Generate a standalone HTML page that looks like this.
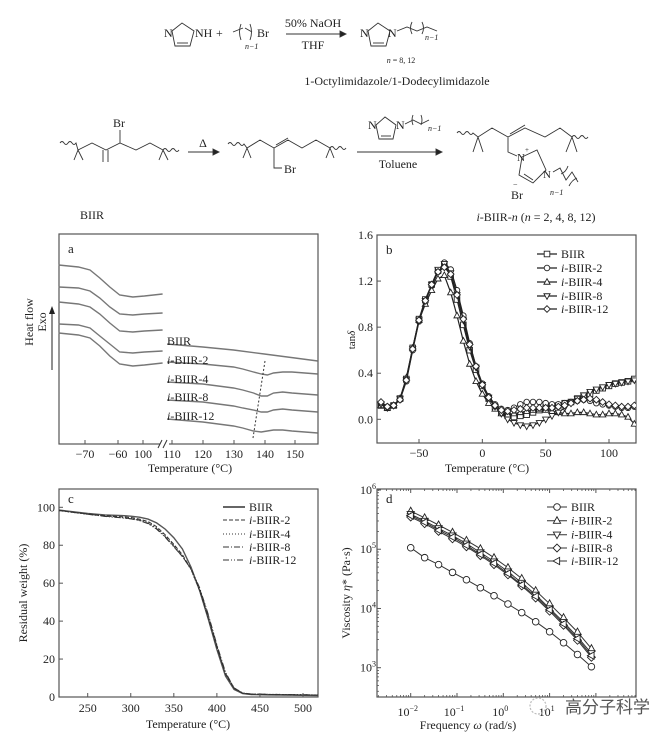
<!DOCTYPE html>
<html><head><meta charset="utf-8"><style>
html,body{margin:0;padding:0;background:#fff}
svg{display:block;font-family:"Liberation Serif","Noto Serif CJK SC",serif}
</style></head><body>
<svg id="fig" width="665" height="741" viewBox="0 0 665 741" xmlns="http://www.w3.org/2000/svg">
<g id="scheme" stroke="#333" stroke-width="0.9" fill="none" font-size="12">
 <polygon points="172,31 182,23 194,31 190,46 175,46"/>
 <line x1="177" y1="43" x2="188" y2="43"/>
 <text x="164" y="37" fill="#222" stroke="none">N</text>
 <text x="195" y="37" fill="#222" stroke="none">NH</text>
 <text x="216" y="37" fill="#222" stroke="none">+</text>
 <path d="M233,32 L243,28 M241,24 Q238,32 241,40 M245,28 L252,32 M250,24 Q253,32 250,40" />
 <text x="245" y="49" fill="#222" stroke="none" font-size="8" font-style="italic">n−1</text>
 <text x="257" y="37" fill="#222" stroke="none">Br</text>
 <line x1="286" y1="34" x2="340" y2="34"/><polygon points="340,31 346,34 340,37" fill="#222"/>
 <text x="313" y="27" text-anchor="middle" fill="#222" stroke="none">50% NaOH</text>
 <text x="313" y="49" text-anchor="middle" fill="#222" stroke="none">THF</text>
 <polygon points="368,31 378,23 390,31 386,46 371,46"/>
 <line x1="373" y1="43" x2="384" y2="43"/>
 <text x="360" y="37" fill="#222" stroke="none">N</text>
 <text x="388" y="37" fill="#222" stroke="none">N</text>
 <path d="M397,31 L407,27 L417,31 L427,27 L437,31 M412,22 Q409,28 412,34 M422,22 Q425,28 422,34"/>
 <text x="425" y="40" fill="#222" stroke="none" font-size="8" font-style="italic">n−1</text>
 <text x="401" y="63" text-anchor="middle" fill="#222" stroke="none" font-size="8"><tspan font-style="italic">n</tspan> = 8, 12</text>
 <text x="397" y="85" text-anchor="middle" fill="#222" stroke="none">1-Octylimidazole/1-Dodecylimidazole</text>
 <!-- BIIR -->
 <path d="M60,143 q2,-3 4,0 q2,3 4,0 q2,-3 4,0 q2,3 4,0 L78,150 L92,143 L106,150 L120,143 L136,150 L150,143 L163,150 M78,150 L74,160 M78,150 L83,160 M163,150 L159,160 M163,150 L168,160 M103,150 L103,162 M108,150 L108,162 M120,143 L120,130 M163,150 q2,-3 4,0 q2,3 4,0 q2,-3 4,0 q2,3 4,0"/>
 <text x="113" y="127" fill="#222" stroke="none">Br</text>
 <text x="92" y="219" text-anchor="middle" fill="#222" stroke="none">BIIR</text>
 <line x1="188" y1="152" x2="213" y2="152"/><polygon points="213,149 219,152 213,155" fill="#222"/>
 <text x="203" y="147" text-anchor="middle" fill="#222" stroke="none">Δ</text>
 <!-- middle -->
 <path d="M228,144 q2,-3 4,0 q2,3 4,0 q2,-3 4,0 q2,3 4,0 L247,148 L260,140 L274,148 L288,140 L302,148 L316,140 L330,148 M247,148 L243,158 M247,148 L251,158 M330,148 L326,158 M330,148 L334,158 M276,145 L288,138 M274,148 L274,168 L282,168 M330,148 q2,-3 4,0 q2,3 4,0 q2,-3 4,0 q2,3 4,0"/>
 <text x="284" y="173" fill="#222" stroke="none">Br</text>
 <polygon points="376,125 385,117 396,125 393,139 379,139"/>
 <line x1="381" y1="136" x2="391" y2="136"/>
 <text x="368" y="129" fill="#222" stroke="none">N</text>
 <text x="396" y="129" fill="#222" stroke="none">N</text>
 <path d="M405,124 L413,120 L421,124 L429,120 M413,115 Q411,120 413,125 M421,115 Q423,120 421,125"/>
 <text x="428" y="131" fill="#222" stroke="none" font-size="8" font-style="italic">n−1</text>
 <line x1="357" y1="152" x2="436" y2="152"/><polygon points="436,149 442,152 436,155" fill="#222"/>
 <text x="398" y="168" text-anchor="middle" fill="#222" stroke="none">Toluene</text>
 <!-- product -->
 <path d="M457,133 q2,-3 4,0 q2,3 4,0 q2,-3 4,0 q2,3 4,0 L478,137 L492,128 L508,137 L525,128 L545,137 L560,128 L572,137 M478,137 L473,152 M478,137 L483,152 M572,137 L566,152 M572,137 L577,152 M510,134 L525,125 M508,137 L508,152 L517,156 M572,137 q2,-3 4,0 q2,3 4,0 q2,-3 4,0 q2,3 4,0"/>
 <polygon points="522,157 537,150 546,170 533,183 519,175"/>
 <line x1="524" y1="174" x2="533" y2="180"/>
 <path d="M553,172 L560,168 L566,180 L572,172 L578,182 M561,174 Q566,172 568,166 M569,186 Q572,180 577,178"/>
 <text x="517" y="161" fill="#222" stroke="none" font-size="11">N</text>
 <text x="525" y="152" fill="#222" stroke="none" font-size="7">+</text>
 <text x="543" y="178" fill="#222" stroke="none" font-size="11">N</text>
 <text x="511" y="199" fill="#222" stroke="none">Br</text>
 <text x="513" y="187" fill="#222" stroke="none" font-size="8">−</text>
 <text x="550" y="195" fill="#222" stroke="none" font-size="8" font-style="italic">n−1</text>
 <text x="536" y="221" text-anchor="middle" fill="#222" stroke="none"><tspan font-style="italic">i</tspan>-BIIR-<tspan font-style="italic">n</tspan> (<tspan font-style="italic">n</tspan> = 2, 4, 8, 12)</text>
</g>
<g id="charts"></g>
<g>
 <circle cx="538" cy="706" r="8" fill="none" stroke="#bbb" stroke-width="1.2" stroke-dasharray="2,1.5"/>
 <text x="565" y="713" font-size="17" fill="#555" font-family="Liberation Sans, Noto Sans CJK SC, sans-serif">高分子科学</text>
</g>
</svg>
<script>
// ---------- panel a (DSC) ----------
const aLeftT = [-78,-72,-68.5,-65.5,-62.5,-59.5,-55.5,-52,-46.5];
const aLeftBIIR = [179,177,174,166,157,149,147,148,150];
const aLeft2 = [157,156,153,146,137,130,129,130,131];
const aLeft4 = [142,140,137,130,121,113,112,113,114];
const aLeft8 = [120,119,116,108,100,92,91,92,93];
const aLeft12 = [111,109,106,98,88,80,78,79,81];
const aRightTBIIR = [108.4,120,130,140,150,157.4];
const aRightBIIR = [100,97,94,90,86,83];
const aRightT = [108.4,120,130,133,136.5,139,141,143,146,149,157.4];
const aRight2 = [82,80,77,75,72,70,69,71,72,72,70];
const aRight4 = [62,60,56,54,51,48,48,51,52,51,49];
const aRight8 = [44,42,38,36,34,32,32,34,35,34,32];
const aRight12 = [25,22,18,16,13,12,13,14,14,13,11];
const aTickLabels = ['−70','−60','100','110','120','130','140','150'];
const aLabels = ['BIIR','i-BIIR-2','i-BIIR-4','i-BIIR-8','i-BIIR-12'];
// ---------- panel b (tan delta) ----------
const bT = [-80,-75,-70,-65,-60,-55,-50,-45,-40,-35,-30,-25,-20,-15,-10,-5,0,5,10,15,20,25,30,35,40,45,50,55,60,65,70,75,80,85,90,95,100,105,110,115,120];
const bBIIR = [0.12,0.10,0.12,0.18,0.35,0.62,0.87,1.04,1.17,1.29,1.34,1.24,1.04,0.82,0.60,0.43,0.29,0.18,0.11,0.06,0.03,0.02,0.03,0.04,0.06,0.08,0.10,0.11,0.12,0.14,0.15,0.18,0.20,0.22,0.25,0.27,0.29,0.31,0.32,0.33,0.35];
const b2 = [0.14,0.11,0.12,0.17,0.33,0.60,0.85,1.02,1.16,1.28,1.36,1.30,1.12,0.90,0.66,0.46,0.31,0.20,0.13,0.09,0.08,0.10,0.13,0.15,0.15,0.15,0.14,0.13,0.13,0.14,0.15,0.16,0.17,0.16,0.14,0.13,0.12,0.11,0.10,0.10,0.11];
const b4 = [0.12,0.10,0.12,0.18,0.36,0.62,0.86,1.00,1.12,1.22,1.25,1.10,0.90,0.68,0.48,0.33,0.22,0.14,0.09,0.05,0.04,0.05,0.06,0.07,0.08,0.09,0.08,0.07,0.06,0.05,0.05,0.06,0.06,0.05,0.04,0.04,0.05,0.05,0.04,0.02,-0.04];
const b8 = [0.13,0.10,0.12,0.18,0.34,0.61,0.86,1.03,1.17,1.30,1.35,1.27,1.08,0.86,0.63,0.45,0.30,0.19,0.11,0.05,0.00,-0.03,-0.05,-0.06,-0.05,-0.03,0.00,0.03,0.06,0.10,0.14,0.18,0.21,0.24,0.26,0.28,0.30,0.31,0.32,0.33,0.34];
const b12 = [0.15,0.11,0.12,0.17,0.34,0.61,0.86,1.03,1.17,1.28,1.32,1.26,1.08,0.87,0.65,0.46,0.30,0.19,0.12,0.08,0.07,0.08,0.09,0.10,0.10,0.10,0.10,0.10,0.11,0.12,0.14,0.16,0.17,0.18,0.17,0.15,0.13,0.12,0.11,0.11,0.12];
const bXTicks = [-50,0,50,100];
const bYTicks = [0.0,0.4,0.8,1.2,1.6];
// ---------- panel c (TGA) ----------
const cT = [217,230,250,270,290,300,310,320,330,340,350,360,370,380,390,400,410,420,430,440,460,480,500,517];
const cBIIR = [98.5,97.8,96.8,96.0,95.6,95.3,94.8,93.8,91.8,88.5,84,78,68.5,56,41,25,11,4,1.8,1.3,1.1,1.0,0.9,0.8];
const c2 = [98.3,97.5,96.5,95.6,95.0,94.6,93.8,92.5,89.8,85.5,80.5,75,67.5,56,41.5,26,12,4.5,2,1.5,1.3,1.2,1.1,1.0];
const c4 = [98.2,97.4,96.3,95.4,94.8,94.3,93.4,92,89.2,85,80,74.5,67,56,42,26.5,12.5,4.8,2.1,1.6,1.4,1.3,1.2,1.1];
const c8 = [98.4,97.6,96.4,95.3,94.5,94.0,93.2,91.6,88.8,84.5,79.5,74,67.5,57,43,27,12.5,4.6,2,1.5,1.3,1.2,1.1,1.0];
const c12 = [98.3,97.5,96.3,95.2,94.4,93.9,93.0,91.4,88.5,84.2,79.2,74,67.8,57.5,43.5,27.5,13,4.8,2.1,1.6,1.4,1.3,1.2,1.1];
const cXTicks = [250,300,350,400,450,500];
const cYTicks = [0,20,40,60,80,100];
// ---------- panel d (viscosity) ----------
const dF = [0.01,0.02,0.04,0.08,0.16,0.32,0.63,1.26,2.5,5,10,20,40,80];
const dBIIR = [1.06e5,7.2e4,5.5e4,4.06e4,3.05e4,2.24e4,1.64e4,1.19e4,8.5e3,5.97e3,4.05e3,2.64e3,1.67e3,1.04e3];
const d2 = [4.4e5,3.4e5,2.57e5,1.93e5,1.41e5,1.02e5,7.2e4,4.9e4,3.2e4,2.0e4,1.2e4,7.0e3,4.0e3,2.1e3];
const d4 = [3.9e5,3.0e5,2.25e5,1.7e5,1.24e5,8.8e4,6.2e4,4.2e4,2.7e4,1.7e4,1.0e4,5.9e3,3.3e3,1.75e3];
const d8 = [3.5e5,2.7e5,2.0e5,1.5e5,1.1e5,7.8e4,5.5e4,3.7e4,2.4e4,1.5e4,9.0e3,5.2e3,2.9e3,1.5e3];
const d12 = [3.7e5,2.85e5,2.1e5,1.6e5,1.16e5,8.2e4,5.8e4,3.9e4,2.5e4,1.6e4,9.5e3,5.5e3,3.1e3,1.6e3];
const dXExp = [-2,-1,0,1,2];
const dYExp = [3,4,5,6];
const legendNames = ['BIIR','i-BIIR-2','i-BIIR-4','i-BIIR-8','i-BIIR-12'];

const NS='http://www.w3.org/2000/svg';
const root=document.getElementById('charts');
function mk(tag,attrs,parent,name){
  const el=document.createElementNS(NS,tag);
  for(const k in attrs) el.setAttribute(k,attrs[k]);
  
  
  (parent||root).appendChild(el);return el;
}
function lin(d0,d1,r0,r1){return v=>r0+(v-d0)*(r1-r0)/(d1-d0);}
function logs(d0,d1,r0,r1){return v=>r0+(Math.log10(v)-d0)*(r1-r0)/(d1-d0);}
function pathD(xs,ys,sx,sy){return xs.map((x,i)=>(i?'L':'M')+sx(x).toFixed(1)+','+sy(ys[i]).toFixed(1)).join(' ');}
function label(g,txt,x,y,opt,name){
  const t=mk('text',Object.assign({x:x,y:y,'font-size':12,fill:'#222'},opt||{}),g,name);
  if(txt.startsWith('i-')){const s=mk('tspan',{'font-style':'italic'},t,'italic-i');s.textContent='i';t.appendChild(document.createTextNode(txt.slice(1)));}
  else t.textContent=txt;
  return t;
}
function marker(g,type,x,y,r,name){
  const st={fill:'#fff',stroke:'#222','stroke-width':0.9};
  if(type==='square') return mk('rect',Object.assign({x:x-r,y:y-r,width:2*r,height:2*r},st),g,name);
  if(type==='circle') return mk('circle',Object.assign({cx:x,cy:y,r:r},st),g,name);
  let p;
  if(type==='up') p=[[x,y-r*1.2],[x+r*1.1,y+r*0.8],[x-r*1.1,y+r*0.8]];
  else if(type==='down') p=[[x,y+r*1.2],[x+r*1.1,y-r*0.8],[x-r*1.1,y-r*0.8]];
  else if(type==='left') p=[[x-r*1.2,y],[x+r*0.8,y-r*1.1],[x+r*0.8,y+r*1.1]];
  else p=[[x,y-r*1.2],[x+r*1.2,y],[x,y+r*1.2],[x-r*1.2,y]];
  return mk('polygon',Object.assign({points:p.map(q=>q.join(',')).join(' ')},st),g,name);
}
function frame(g,x0,y0,x1,y1){mk('rect',{x:x0,y:y0,width:x1-x0,height:y1-y0,fill:'none',stroke:'#555','stroke-width':1.2},g,'plot-frame');}

// ---- Panel a ----
(function(){
  const g=mk('g',{},root,'panel-a-dsc');
  const X0=59,X1=318,Y0=234,Y1=444;
  frame(g,X0,Y0,X1,Y1);
  const sxL=lin(-70,-60,85,118), sxR=lin(110,150,172,295), sy=lin(0,210,444,234);
  const L=[aLeftBIIR,aLeft2,aLeft4,aLeft8,aLeft12], R=[aRight2,aRight4,aRight8,aRight12];
  L.forEach((s,i)=>mk('path',{d:pathD(aLeftT,s,sxL,sy),fill:'none',stroke:'#777','stroke-width':1.4},g,'dsc-curve-low-'+i));
  mk('path',{d:pathD(aRightTBIIR,aRightBIIR,sxR,sy),fill:'none',stroke:'#777','stroke-width':1.4},g,'dsc-curve-high-biir');
  R.forEach((s,i)=>mk('path',{d:pathD(aRightT,s,sxR,sy),fill:'none',stroke:'#777','stroke-width':1.4},g,'dsc-curve-high-'+i));
  mk('line',{x1:265,y1:361,x2:253,y2:438,stroke:'#333','stroke-width':1,'stroke-dasharray':'2,2'},g,'peak-guide-line');
  const ly=[345,364,383,401,420];
  aLabels.forEach((n,i)=>label(g,n,167,ly[i],{},'dsc-label'));
  const tx=[85,118,143,172,203,234,265,295];
  tx.forEach((x,i)=>{mk('line',{x1:x,y1:Y1,x2:x,y2:Y1-4,stroke:'#555'},g,'x-tick');
    label(g,aTickLabels[i],x,458,{'text-anchor':'middle'},'x-tick-label');});
  mk('rect',{x:160,y:438,width:9,height:12,fill:'#fff'},g,'axis-break-gap');
  mk('path',{d:'M158,448 L162,440 M163,448 L167,440',stroke:'#333',fill:'none'},g,'axis-break');
  label(g,'Temperature (°C)',190,472,{'text-anchor':'middle'},'x-axis-title');
  label(g,'a',68,253,{'font-size':13},'panel-label');
  label(g,'Heat flow',33,322,{'text-anchor':'middle',transform:'rotate(-90 33 322)'},'y-axis-title');
  label(g,'Exo',46,322,{'text-anchor':'middle',transform:'rotate(-90 46 322)'},'y-axis-title-exo');
  mk('line',{x1:52,y1:370,x2:52,y2:312,stroke:'#222','stroke-width':1},g,'exo-arrow');
  mk('polygon',{points:'49,314 52,306 55,314',fill:'#222'},g,'exo-arrowhead');
})();

// ---- Panel b ----
(function(){
  const g=mk('g',{},root,'panel-b-tan-delta');
  const X0=377,X1=636,Y0=235,Y1=443;
  const sx=lin(-50,100,419,609), sy=lin(0,1.6,419.3,235);
  frame(g,X0,Y0,X1,Y1);
  const S=[bBIIR,b2,b4,b8,b12], M=['square','circle','up','down','diamond'];
  const cl=mk('clipPath',{id:'clipb'},g,'clip');mk('rect',{x:X0,y:Y0,width:X1-X0,height:Y1-Y0},cl,'clip-rect');
  S.forEach((s,i)=>{
    const sg=mk('g',{'clip-path':'url(#clipb)'},g,'series-'+legendNames[i]);
    mk('path',{d:pathD(bT,s,sx,sy),fill:'none',stroke:'#222','stroke-width':1.2},sg,'tan-delta-line');
    bT.forEach((t,j)=>marker(sg,M[i],sx(t),sy(s[j]),2.8,'tan-delta-point'));
  });
  bXTicks.forEach(v=>{mk('line',{x1:sx(v),y1:Y1,x2:sx(v),y2:Y1-4,stroke:'#555'},g,'x-tick');
    label(g,v<0?'−'+(-v):String(v),sx(v),457,{'text-anchor':'middle'},'x-tick-label');});
  bYTicks.forEach(v=>{mk('line',{x1:X0,y1:sy(v),x2:X0+4,y2:sy(v),stroke:'#555'},g,'y-tick');
    label(g,v.toFixed(1),373,sy(v)+4,{'text-anchor':'end'},'y-tick-label');});
  label(g,'Temperature (°C)',487,472,{'text-anchor':'middle'},'x-axis-title');
  const yt=label(g,'tan',348,347,{'text-anchor':'middle','font-size':11,transform:'rotate(-90 348 340)'},'y-axis-title');
  const ds=mk('tspan',{'font-style':'italic'},yt,'delta');ds.textContent='δ';
  label(g,'b',386,254,{'font-size':13},'panel-label');
  const ly=[254,268,282,296,309];
  legendNames.forEach((n,i)=>{const lg=mk('g',{},g,'legend-entry');
    mk('line',{x1:537,y1:ly[i],x2:557,y2:ly[i],stroke:'#222','stroke-width':1.2},lg,'legend-line');
    marker(lg,M[i],547,ly[i],2.8,'legend-marker');
    label(lg,n,561,ly[i]+4,{},'legend-text');});
})();

// ---- Panel c ----
(function(){
  const g=mk('g',{},root,'panel-c-tga');
  const X0=59,X1=318,Y0=489,Y1=697;
  const sx=lin(250,500,87.7,303), sy=lin(0,100,697,507.3);
  frame(g,X0,Y0,X1,Y1);
  const S=[cBIIR,c2,c4,c8,c12], D=['none','4,2','1,2','6,2,1,2','6,2,1,2,1,2'];
  S.forEach((s,i)=>mk('path',{d:pathD(cT,s,sx,sy),fill:'none',stroke:i?'#333':'#555','stroke-width':i?1:1.4,'stroke-dasharray':D[i]},g,'tga-curve-'+legendNames[i]));
  cXTicks.forEach(v=>{mk('line',{x1:sx(v),y1:Y1,x2:sx(v),y2:Y1-4,stroke:'#555'},g,'x-tick');
    label(g,String(v),sx(v),712,{'text-anchor':'middle'},'x-tick-label');});
  cYTicks.forEach(v=>{mk('line',{x1:X0,y1:sy(v),x2:X0+4,y2:sy(v),stroke:'#555'},g,'y-tick');
    label(g,String(v),55,sy(v)+4,{'text-anchor':'end'},'y-tick-label');});
  label(g,'Temperature (°C)',188,728,{'text-anchor':'middle'},'x-axis-title');
  label(g,'Residual weight (%)',27,593,{'text-anchor':'middle',transform:'rotate(-90 27 593)'},'y-axis-title');
  label(g,'c',68,503,{'font-size':13},'panel-label');
  const ly=[507,520,534,547,560];
  legendNames.forEach((n,i)=>{const lg=mk('g',{},g,'legend-entry');
    mk('line',{x1:223,y1:ly[i],x2:245,y2:ly[i],stroke:'#333','stroke-width':i?1:1.4,'stroke-dasharray':D[i]},lg,'legend-line');
    label(lg,n,249,ly[i]+4,{},'legend-text');});
})();

// ---- Panel d ----
(function(){
  const g=mk('g',{},root,'panel-d-viscosity');
  const X0=377,X1=636,Y0=489,Y1=697;
  const sx=logs(-2,0,410.7,503.3), sy=logs(3,6,667.7,490);
  frame(g,X0,Y0,X1,Y1);
  const S=[dBIIR,d2,d4,d8,d12], M=['circle','up','down','diamond','left'];
  S.forEach((s,i)=>{
    const sg=mk('g',{},g,'series-'+legendNames[i]);
    mk('path',{d:pathD(dF,s,sx,sy),fill:'none',stroke:'#333','stroke-width':1},sg,'viscosity-line');
    dF.forEach((f,j)=>marker(sg,M[i],sx(f),sy(s[j]),3.3,'viscosity-point'));
  });
  for(let e=-3;e<=2;e++)for(let k=2;k<=9;k++){const v=k*Math.pow(10,e);const x=sx(v);if(x>X0&&x<X1){
    mk('line',{x1:x,y1:Y1,x2:x,y2:Y1-2,stroke:'#555','stroke-width':0.8},g,'x-minor-tick');
    mk('line',{x1:x,y1:Y0,x2:x,y2:Y0+2,stroke:'#555','stroke-width':0.8},g,'x-minor-tick');}}
  dXExp.forEach(e=>{const x=sx(Math.pow(10,e));
    mk('line',{x1:x,y1:Y1,x2:x,y2:Y1-4,stroke:'#555'},g,'x-tick');
    mk('line',{x1:x,y1:Y0,x2:x,y2:Y0+4,stroke:'#555'},g,'x-tick-top');
    if(e<2){const t=label(g,'10',x-3,716,{'text-anchor':'middle'},'x-tick-label');
      const s=mk('tspan',{dy:-5,'font-size':8},t,'exponent');s.textContent=e<0?'−'+(-e):String(e);}});
  dYExp.forEach(e=>{const y=sy(Math.pow(10,e));
    mk('line',{x1:X0,y1:y,x2:X0+4,y2:y,stroke:'#555'},g,'y-tick');
    const t=label(g,'10',360,y+4,{},'y-tick-label');
    const s=mk('tspan',{dy:-5,'font-size':8},t,'exponent');s.textContent=String(e);});
  for(let e=2;e<=5;e++)for(let k=2;k<=9;k++){const y=sy(k*Math.pow(10,e));if(y>Y0&&y<Y1)
    mk('line',{x1:X0,y1:y,x2:X0+2,y2:y,stroke:'#555','stroke-width':0.8},g,'y-minor-tick');}
  const xt=label(g,'Frequency ',468,729,{'text-anchor':'middle'},'x-axis-title');
  const om=mk('tspan',{'font-style':'italic'},xt,'omega');om.textContent='ω';
  xt.appendChild(document.createTextNode(' (rad/s)'));
  const yt=label(g,'Viscosity ',350,593,{'text-anchor':'middle',transform:'rotate(-90 350 593)'},'y-axis-title');
  const et=mk('tspan',{'font-style':'italic'},yt,'eta');et.textContent='η';
  yt.appendChild(document.createTextNode('* (Pa·s)'));
  label(g,'d',386,503,{'font-size':13},'panel-label');
  const ly=[507,520.7,534.7,548,561];
  legendNames.forEach((n,i)=>{const lg=mk('g',{},g,'legend-entry');
    mk('line',{x1:547,y1:ly[i],x2:567,y2:ly[i],stroke:'#333'},lg,'legend-line');
    marker(lg,M[i],557,ly[i],3.3,'legend-marker');
    label(lg,n,571,ly[i]+4,{},'legend-text');});
})();
</script>
</body></html>
